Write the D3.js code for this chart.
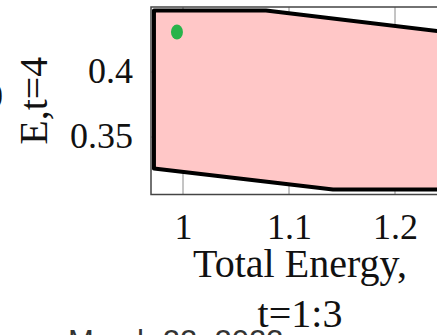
<!DOCTYPE html>
<html>
<head>
<meta charset="utf-8">
<script src="https://cdn.jsdelivr.net/npm/d3@7"></script>
<style>
  html, body { margin: 0; padding: 0; background: #fff; }
  svg { display: block; }
</style>
</head>
<body>
<svg id="chart" width="437" height="335"></svg>
<script>
// Tick values on both axes
const xTicks = [1, 1.1, 1.2];
const yTicks = [0.35, 0.4];

// Feasible region outline (Total Energy t=1:3 vs E t=4)
const regionX = [0.9726, 1.0783, 1.2453, 1.2453, 1.1415, 0.9726];
const regionY = [0.4473, 0.4473, 0.4310, 0.3096, 0.3096, 0.3258];

// Observed point
const pointX = [0.9943];
const pointY = [0.4308];

// Axis titles
const xTitle = ["Total Energy,", "t=1:3"];
const yTitle = ["E,t=4"];

const svg = d3.select("#chart");
const W = 437, H = 335;
const plot = { left: 151, top: 7, right: 449, bottom: 194.5 };

const x = d3.scaleLinear().domain([0.96981, 1.25094]).range([plot.left, plot.right]);
const y = d3.scaleLinear().domain([0.30577, 0.45]).range([plot.bottom, plot.top]);

const serif = "'Liberation Serif', 'DejaVu Serif', serif";

svg.append("defs").append("clipPath").attr("id", "plotClip")
  .append("rect")
  .attr("x", plot.left).attr("y", plot.top)
  .attr("width", plot.right - plot.left).attr("height", plot.bottom - plot.top);

const body = svg.append("g").attr("clip-path", "url(#plotClip)");

// grid lines
body.append("g").selectAll("line.vx").data(xTicks).join("line")
  .attr("x1", d => x(d)).attr("x2", d => x(d))
  .attr("y1", plot.top).attr("y2", plot.bottom)
  .attr("stroke", "#8a8a8a").attr("stroke-width", 1);
body.append("g").selectAll("line.hy").data(yTicks).join("line")
  .attr("y1", d => y(d)).attr("y2", d => y(d))
  .attr("x1", plot.left).attr("x2", plot.right)
  .attr("stroke", "#8a8a8a").attr("stroke-width", 1);

// region polygon
const pts = regionX.map((v, i) => [x(v), y(regionY[i])]);
body.append("path")
  .attr("d", d3.line()(pts) + "Z")
  .attr("fill", "#ffc7c7")
  .attr("stroke", "#000")
  .attr("stroke-width", 4)
  .attr("stroke-linejoin", "round");

// point
body.selectAll("ellipse").data(pointX).join("ellipse")
  .attr("cx", d => x(d)).attr("cy", (d, i) => y(pointY[i]))
  .attr("rx", 6).attr("ry", 7.5)
  .attr("fill", "#27b34a");

// frame
svg.append("rect")
  .attr("x", plot.left).attr("y", plot.top)
  .attr("width", plot.right - plot.left).attr("height", plot.bottom - plot.top)
  .attr("fill", "none").attr("stroke", "#444").attr("stroke-width", 1.5);

// x axis tick labels
const xAxis = svg.append("g")
  .attr("transform", `translate(0,${plot.bottom})`)
  .call(d3.axisBottom(x).tickValues(xTicks).tickSize(0).tickFormat(d => String(d)));
xAxis.select(".domain").remove();
xAxis.selectAll("text")
  .attr("dy", null).attr("y", 44.5)
  .attr("fill", "#111")
  .style("font-family", serif).style("font-size", "36px");

// y axis tick labels
const yAxis = svg.append("g")
  .attr("transform", `translate(${plot.left},0)`)
  .call(d3.axisLeft(y).tickValues(yTicks).tickSize(0).tickFormat(d => String(d)));
yAxis.select(".domain").remove();
yAxis.selectAll("text")
  .attr("dy", null).attr("x", -18).attr("y", 10.5)
  .attr("fill", "#111")
  .style("font-family", serif).style("font-size", "36px");

// x axis title
svg.append("text")
  .attr("x", (plot.left + plot.right) / 2)
  .attr("text-anchor", "middle")
  .style("font-family", serif).style("font-size", "40px").attr("fill", "#111")
  .selectAll("tspan").data(xTitle).join("tspan")
  .attr("x", (plot.left + plot.right) / 2)
  .attr("y", (d, i) => 277 + i * 50)
  .text(d => d);

// y axis title
svg.append("text")
  .attr("transform", `translate(47,${(plot.top + plot.bottom) / 2}) rotate(-90)`)
  .attr("text-anchor", "middle")
  .style("font-family", serif).style("font-size", "40px").attr("fill", "#111")
  .text(yTitle[0]);

// edge of the neighbouring panel's tick label
svg.append("text")
  .attr("x", 3).attr("y", 108)
  .attr("text-anchor", "end")
  .style("font-family", serif).style("font-size", "36px").attr("fill", "#111")
  .text("0");

// date footer
svg.append("text")
  .attr("x", 68).attr("y", 352)
  .style("font-family", "'Liberation Sans', Arial, sans-serif").style("font-size", "31px")
  .attr("fill", "#333")
  .text("March 22, 2023");
</script>
</body>
</html>
